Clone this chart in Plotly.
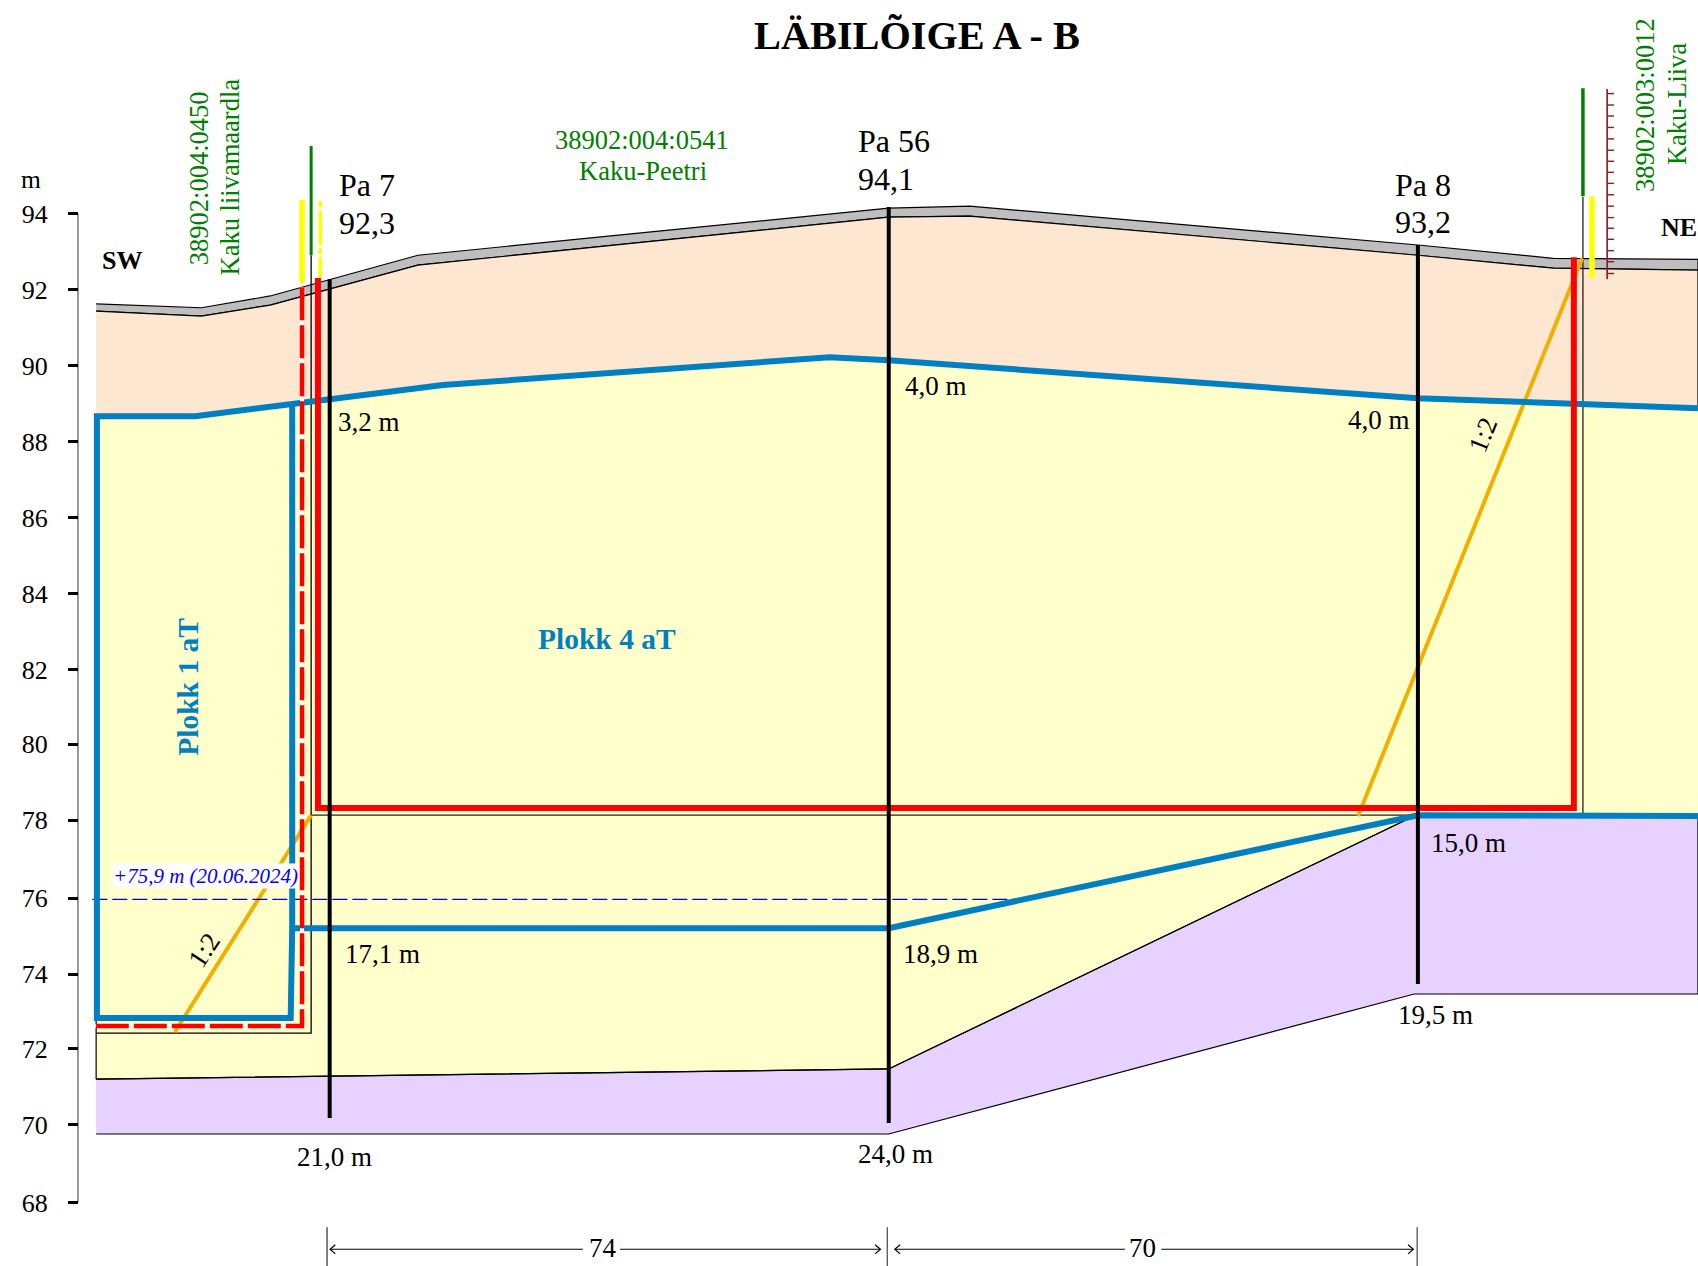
import plotly.graph_objects as go

# --- values: x = distance along the section (m, from Pa 7 dimension line), y = elevation (m) ---
ground_top_x = [-30.5, -16.6, -7.5, 12.0, 74.2, 84.9, 144.1, 162.0, 181.1]
ground_top_y = [91.62, 91.52, 91.83, 92.90, 94.14, 94.19, 93.17, 92.82, 92.79]
ground_low_y = [91.43, 91.30, 91.59, 92.64, 93.90, 93.93, 92.90, 92.56, 92.51]

sand_top_x = [-30.5, -17.4, -4.6, 15.3, 66.4, 74.2, 144.1, 165.9, 181.1]
sand_top_y = [88.67, 88.67, 88.99, 89.49, 90.22, 90.14, 89.14, 88.99, 88.88]

sand_low_x = [-30.5, 74.2, 143.6]
sand_low_y = [71.24, 71.51, 78.16]
rock_right_x = [143.6, 181.1]
rock_right_y = [78.16, 78.16]
base_x = [-30.5, 74.2, 143.6, 181.1]
base_y = [69.80, 69.80, 73.48, 73.48]

block1_x = [-4.6, -4.6, -4.8, -30.4, -30.4, -17.4]
block1_y = [89.04, 75.21, 72.85, 72.85, 88.67, 88.67]
block4_low_x = [-4.6, 74.2, 144.1, 181.1]
block4_low_y = [75.21, 75.21, 78.18, 78.16]

red_x = [-1.2, -1.2, 164.7, 164.7]
red_y = [92.30, 78.37, 78.37, 92.85]
red_dash_x = [-3.3, -3.3, -30.8]
red_dash_y = [92.06, 72.64, 72.64]
thin_left_x = [-2.1, -2.1, -30.5]
thin_left_y = [92.90, 72.45, 72.45]
thin_floor_x = [-2.1, 165.9, 165.9]
thin_floor_y = [78.18, 78.18, 94.43]

green_left_x = [-2.1, -2.1]
green_left_y = [95.77, 92.90]
green_right_x = [165.9, 165.9]
green_right_y = [97.29, 94.45]
yellow_left_x = [-3.3, -3.3]
yellow_left_y = [94.35, 92.17]
yellow_dash_x = [-0.9, -0.9]
yellow_dash_y = [94.32, 92.30]
yellow_right_x = [167.1, 167.1]
yellow_right_y = [94.45, 92.30]

pa7_x, pa7_y = [0.35, 0.35], [92.27, 70.22]
pa56_x, pa56_y = [74.2, 74.2], [94.17, 70.09]
pa8_x, pa8_y = [144.1, 144.1], [93.17, 73.74]

scale_x = 169.1
scale_ends = [97.27, 92.27]
scale_ticks = [97.15, 96.85, 96.56, 96.26, 95.96, 95.66, 95.37, 95.08, 94.79,
               94.49, 94.19, 93.89, 93.61, 93.32, 93.02, 92.73, 92.42]

slope_left_x, slope_left_y = [-20.1, -2.1], [72.48, 78.18]
slope_right_x, slope_right_y = [136.2, 165.8], [78.16, 92.82]
water_x, water_y = [-31.0, 91.3], [75.97, 75.97]

dim_marks = [0, 74, 144]
dim_y = 66.77
dim_tick_y = [67.35, 66.33]
dim_runs = [(0.4, 33.8), (38.7, 73.1), (75.0, 105.4), (110.2, 143.5)]
dim_arrow_left = [0.4, 75.0]
dim_arrow_right = [73.1, 143.5]

y_tick_labels = ["68", "70", "72", "74", "76", "78", "80", "82", "84", "86", "88", "90", "92", "94"]
y_tick_positions = [68.0, 70.05, 72.05, 74.0, 76.0, 78.05, 80.05, 82.0, 84.0, 86.0, 88.0, 90.0, 92.0, 94.0]
axis_x = -32.9

# text, x, y, size, colour, bold, anchor, angle
labels = [
    ("m", -39.1, 94.88, 25.5, "black", False, "center", 0),
    ("SW", -27.1, 92.75, 26, "black", True, "center", 0),
    ("NE", 175.9, 93.63, 26, "black", True, "left", 0),
    ("38902:004:0450", -16.9, 94.93, 26.5, "#008000", False, "center", -90),
    ("Kaku liivamaardla", -12.8, 94.95, 26.5, "#008000", False, "center", -90),
    ("38902:003:0012", 174.1, 96.85, 26.5, "#008000", False, "center", -90),
    ("Kaku-Liiva", 178.3, 96.87, 26.5, "#008000", False, "center", -90),
    ("38902:004:0541", 41.6, 95.93, 26.5, "#008000", False, "center", 0),
    ("Kaku-Peetri", 41.7, 95.11, 26.5, "#008000", False, "center", 0),
    ("Pa 7", 1.3, 94.74, 32, "black", False, "left", 0),
    ("92,3", 1.3, 93.74, 32, "black", False, "left", 0),
    ("Pa 56", 69.9, 95.90, 32, "black", False, "left", 0),
    ("94,1", 69.9, 94.90, 32, "black", False, "left", 0),
    ("Pa 8", 140.8, 94.76, 32, "black", False, "left", 0),
    ("93,2", 140.8, 93.77, 32, "black", False, "left", 0),
    ("3,2 m", 1.15, 88.52, 27, "black", False, "left", 0),
    ("4,0 m", 76.1, 89.46, 27, "black", False, "left", 0),
    ("4,0 m", 134.6, 88.58, 27, "black", False, "left", 0),
    ("17,1 m", 2.1, 74.53, 27, "black", False, "left", 0),
    ("18,9 m", 75.8, 74.53, 27, "black", False, "left", 0),
    ("15,0 m", 145.6, 77.45, 27, "black", False, "left", 0),
    ("19,5 m", 141.2, 72.93, 27, "black", False, "left", 0),
    ("21,0 m", -4.2, 69.19, 27, "black", False, "left", 0),
    ("24,0 m", 69.9, 69.27, 27, "black", False, "left", 0),
    ("Plokk 4 aT", 37.0, 82.81, 29.5, "#0080C0", True, "center", 0),
    ("Plokk 1 aT", -18.4, 81.55, 29.5, "#0080C0", True, "center", -90),
    ("1:2", -16.2, 74.63, 27, "black", False, "center", -57),
    ("1:2", 152.7, 88.17, 27, "black", False, "center", -68),
    ("74", 36.5, 66.80, 27, "black", False, "center", 0),
    ("70", 107.7, 66.80, 27, "black", False, "center", 0),
]

WIDTH, HEIGHT = 1698, 1266
FONT = "Liberation Serif"
BLUE, RED = "#0080C0", "#FF0000"
ORANGE, YELLOW, GREEN = "#F0B000", "#FFFF00", "#008000"

fig = go.Figure()


def fill(xs, ys, color, edge=1.2):
    fig.add_trace(go.Scatter(x=xs, y=ys, mode="lines", fill="toself", fillcolor=color,
                             line=dict(color="black", width=edge), cliponaxis=False,
                             hoverinfo="skip", showlegend=False))


def line(xs, ys, color, width, dash=None):
    fig.add_trace(go.Scatter(x=xs, y=ys, mode="lines",
                             line=dict(color=color, width=width, dash=dash), cliponaxis=False,
                             hoverinfo="skip", showlegend=False))


# axis spine, only over the labelled elevations
line([axis_x, axis_x], [y_tick_positions[0], y_tick_positions[-1]], "#808080", 1.6)

# ground layers
fill(ground_top_x + ground_top_x[::-1], ground_top_y + ground_low_y[::-1], "#BEBEBE")
fill(ground_top_x + sand_top_x[::-1], ground_low_y + sand_top_y[::-1], "#FDE7D1")
fill(sand_top_x + rock_right_x[::-1] + sand_low_x[::-1],
     sand_top_y + rock_right_y[::-1] + sand_low_y[::-1], "#FFFFCC", 0)
fill(sand_low_x + rock_right_x[1:] + base_x[::-1],
     sand_low_y + rock_right_y[1:] + base_y[::-1], "#E6D1FF")
line(sand_low_x, sand_low_y, "black", 1.2)
line([sand_top_x[0], sand_low_x[0]], [sand_top_y[0], sand_low_y[0]], "black", 1.2)

# extraction frame
line(thin_left_x, thin_left_y, "black", 1.3)
line(thin_floor_x, thin_floor_y, "#222222", 1.3)

# slopes and water level
line(slope_left_x, slope_left_y, ORANGE, 4)
line(slope_right_x, slope_right_y, ORANGE, 4)
line(water_x, water_y, "#0000CC", 1.3, "15px,5px")

# block outlines
line(block1_x + sand_top_x[2:], block1_y + sand_top_y[2:], BLUE, 6)
line(block4_low_x, block4_low_y, BLUE, 6)

# boundaries
line(red_dash_x, red_dash_y, "white", 4)
line(red_dash_x, red_dash_y, RED, 4.5, "33px,5px")
line(red_x, red_y, RED, 6)
line(green_left_x, green_left_y, GREEN, 3)
line(green_right_x, green_right_y, GREEN, 3.5)
line(yellow_left_x, yellow_left_y, YELLOW, 5.5)
line(yellow_dash_x, yellow_dash_y, YELLOW, 3.5, "6px,3px,35px,3px")
line(yellow_right_x, yellow_right_y, YELLOW, 5.5)

# boreholes
line(pa7_x, pa7_y, "black", 4)
line(pa56_x, pa56_y, "black", 4)
line(pa8_x, pa8_y, "black", 4)

# ticked scale
line([scale_x, scale_x], scale_ends, "#8B1A1A", 1.6)
tick_xs, tick_ys = [], []
for v in scale_ticks:
    tick_xs += [scale_x, scale_x + 0.9, None]
    tick_ys += [v, v, None]
line(tick_xs, tick_ys, "#8B1A1A", 1.4)

# dimension line
for i, m in enumerate(dim_marks):
    line([m, m], dim_tick_y, "#555555" if i == 0 else "#222222", 1.5 if i == 0 else 1)
for a, b in dim_runs:
    line([a, b], [dim_y, dim_y], "black", 1.2)
for a in dim_arrow_left:
    line([a + 0.7, a, a + 0.7], [dim_y + 0.12, dim_y, dim_y - 0.12], "black", 1.2)
for b in dim_arrow_right:
    line([b - 0.7, b, b - 0.7], [dim_y + 0.12, dim_y, dim_y - 0.12], "black", 1.2)

for text, x, y, size, color, bold, anchor, angle in labels:
    fig.add_annotation(x=x, y=y, xref="x", yref="y", showarrow=False,
                       text=f"<b>{text}</b>" if bold else text,
                       xanchor=anchor, yanchor="middle", textangle=angle,
                       font=dict(family=FONT, size=size, color=color))
fig.add_annotation(x=-28.4, y=76.58, xref="x", yref="y", showarrow=False,
                   text="<i>+75,9 m (20.06.2024)</i>", xanchor="left", yanchor="middle",
                   bgcolor="white", borderpad=0,
                   font=dict(family=FONT, size=21, color="#0000FF"))

fig.update_layout(
    width=WIDTH, height=HEIGHT, margin=dict(l=0, r=0, t=0, b=0, autoexpand=False),
    paper_bgcolor="white", plot_bgcolor="white", showlegend=False,
    title=dict(text="<b>LÄBILÕIGE A - B</b>", x=917 / WIDTH, xanchor="center",
               y=1 - 35 / HEIGHT, yanchor="middle",
               font=dict(family=FONT, size=40.3, color="black")),
    xaxis=dict(visible=False, range=[-43.2, 181.1], domain=[0, 1], fixedrange=True),
    yaxis=dict(range=[66.33, 99.61], domain=[0, 1],
               anchor="free", position=78 / WIDTH, side="left",
               tickmode="array", tickvals=y_tick_positions, ticktext=y_tick_labels,
               ticks="outside", ticklen=10, tickwidth=3, tickcolor="black",
               showline=False, showgrid=False, zeroline=False,
               ticklabelstandoff=15, fixedrange=True,
               tickfont=dict(family=FONT, size=26, color="black")),
)

fig.write_html("out.html", config={"displayModeBar": False},
               post_script="document.body.style.margin='0';")
